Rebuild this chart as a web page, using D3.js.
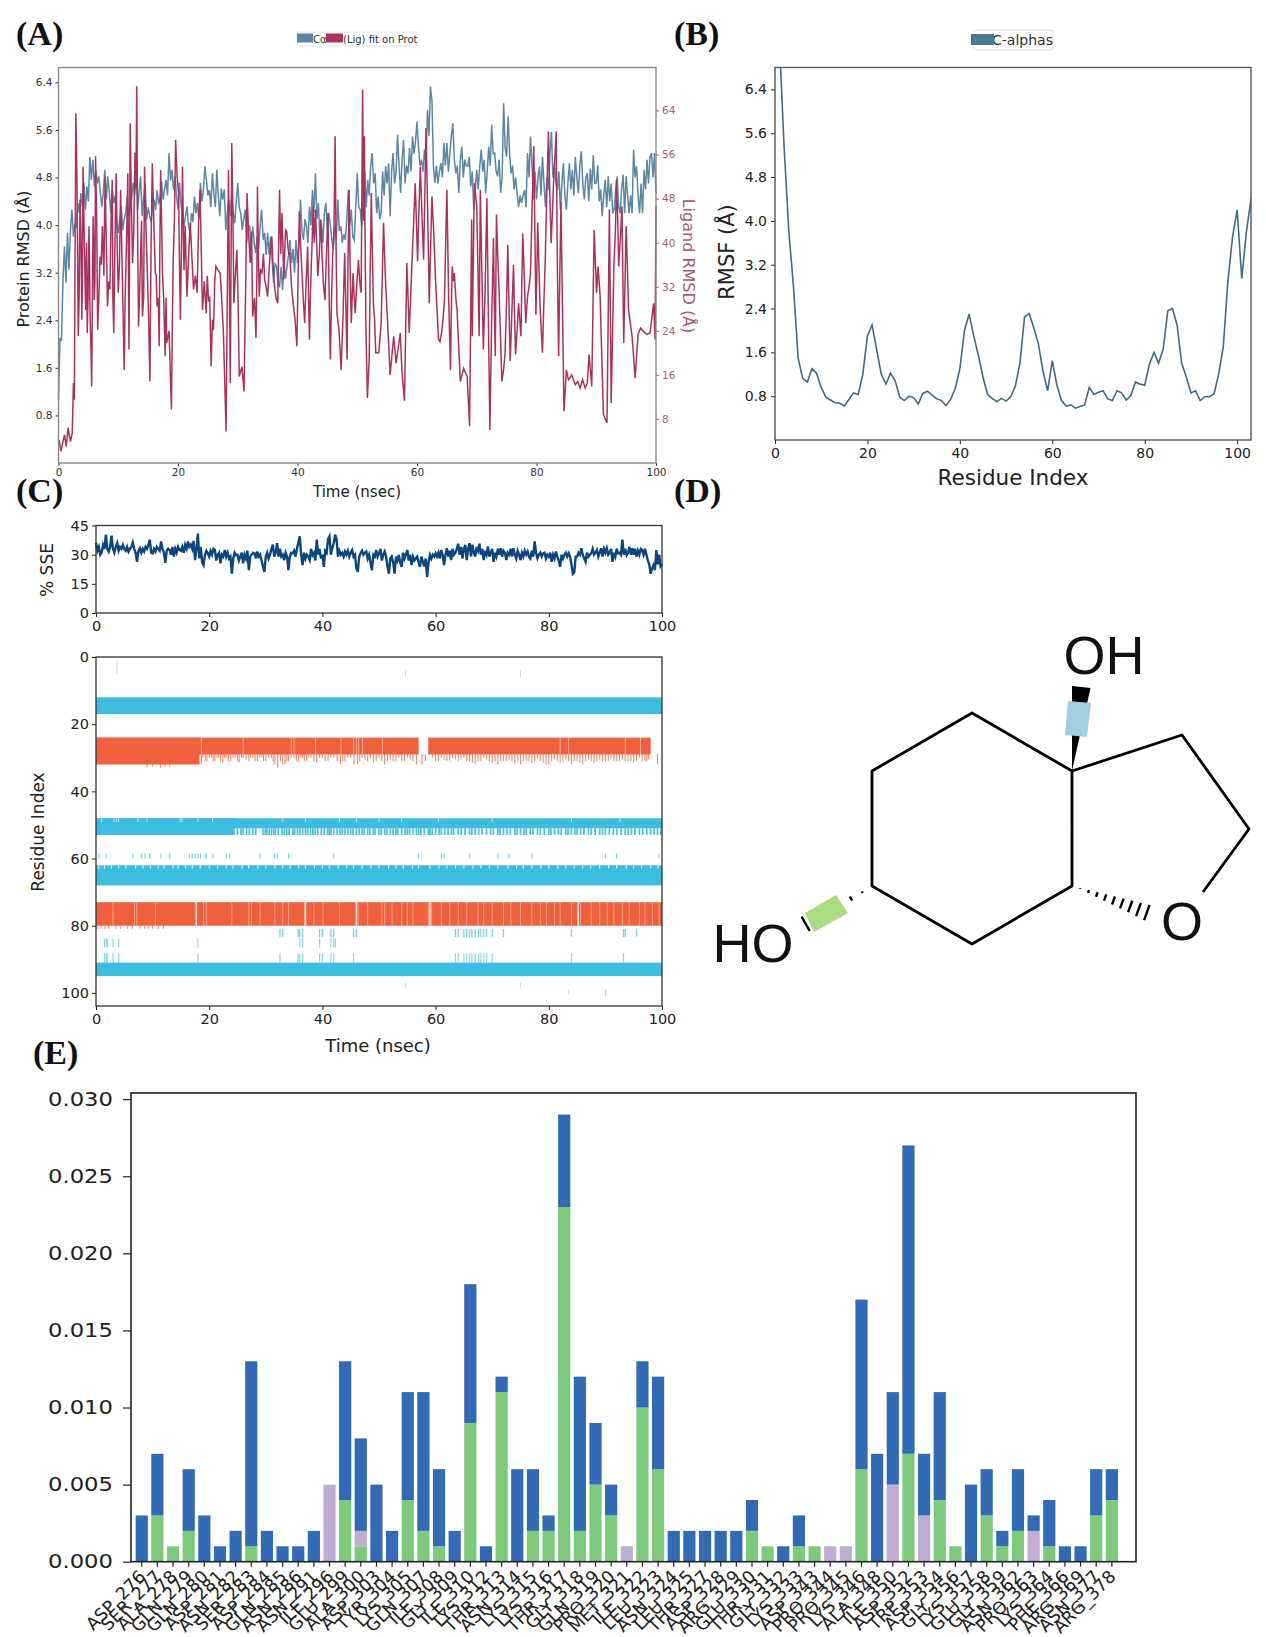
<!DOCTYPE html>
<html>
<head>
<meta charset="utf-8">
<script src="https://cdnjs.cloudflare.com/ajax/libs/d3/7.8.5/d3.min.js"></script>
<style>
  body { margin: 0; background: #fff; }
  text { font-family: "DejaVu Sans", sans-serif; }
  .panel-letter { font-family: "Liberation Serif", serif; font-weight: bold; font-size: 34px; fill: #111; }
  .atom { font-family: "Liberation Sans", sans-serif; font-size: 54px; fill: #111; }
</style>
</head>
<body>
<div id="chart"></div>
<script>
// (A) RMSD. Protein is one value per 0.25 ns
var proteinRmsd = [
1.06,2.1,2.05,3.08,3.64,3.03,3.87,3.25,3.92,4.26,3.81,4.03,3.95,4.37,4.2,4.54,4.31,4.71,4.26,4.65,
4.4,5.15,4.76,5.1,4.65,4.93,4.7,4.82,4.54,4.31,4.55,4.93,4.43,4.82,4.55,4.2,4.59,4.37,4.5,4.05,
3.87,4.1,4.31,3.92,4.1,4.2,4.48,4.15,4.26,4.45,4.71,4.5,4.87,4.26,4.55,4.82,4.15,4.45,4.71,4.09,
4.3,4.15,4.05,4.3,4.43,4.25,4.59,4.35,4.48,4.73,4.43,4.6,4.76,4.5,5.21,4.75,4.93,4.59,4.82,4.5,
4.26,4.71,4.35,4.2,3.98,4.15,4.31,4,3.87,4.2,4.05,4.48,4.2,4.37,4.1,4.71,4.4,4.59,4.99,4.76,
4.5,4.59,4.3,4.87,4.54,4.3,4.93,4.5,4.15,4.62,4.43,4.6,3.92,4.2,4.43,4.15,4.54,4.2,4.03,4.4,
4.71,4.3,4.2,3.92,4.1,4.26,3.7,4,3.98,3.64,3.98,3.7,3.53,3.81,3.6,3.98,4.26,3.75,3.87,3.5,
3.87,3.5,3.81,3.4,3.03,3.35,3.31,3,2.97,3.3,2.91,3.36,3.1,3.31,3.5,3.75,3.36,3.6,3.2,3.75,
3.36,3.7,4.43,3.9,3.75,4.1,3.98,3.7,4.31,4,4.59,4.2,4.87,4.1,4.37,3.8,4.03,3.7,4.2,4.37,
3.9,4.2,4,3.75,3.6,4,3.75,4.43,3.9,3.98,3.7,3.85,3.75,4.1,4.59,4,4.26,3.8,3.75,4.3,
4.87,4.3,4.26,3.98,4.4,4.9,4.3,4.76,4.5,5,5.21,4.7,4.87,4.2,4.48,4.1,4.2,4.9,4.5,4.99,
4.7,5.04,4.15,4.9,5.21,4.7,4.9,5.52,5,4.54,5.1,5.43,4.7,5,4.87,5.3,4.9,5.49,5.2,5.4,
5.74,5.32,5,5.1,4.9,5.27,5,5.94,5.5,6.33,6.1,4.99,4.71,5,4.7,4.9,5.04,4.8,5.38,5,
5.38,4.9,5.2,5.5,5.71,5.1,4.87,5,4.54,5.1,5.32,4.8,5.1,5,4.99,5.15,4.65,4.9,4.26,4.6,
4.93,4.6,5,5.27,4.9,5.1,4.54,4.9,5.32,5,5.69,5.2,5.21,4.9,4.82,5.1,4.54,4.8,6.05,5.3,
5.15,5.83,5.2,4.87,5,4.6,4.8,4.54,4.3,4.5,4.37,4.5,4.59,4.3,5.21,4.8,5.49,5,4.43,4.9,
4.43,4.8,4.99,4.5,5.15,4.7,4.31,4.8,4.59,5.2,5.57,4.8,5.04,4.7,4.59,4.9,4.26,4.7,5.04,4.5,
4.26,4.7,5.04,4.6,4.93,4.5,5.15,4.8,4.54,5,5.24,4.7,4.43,4.8,4.87,4.4,4.95,4.6,5.18,4.7,
4.71,5,4.4,4.6,4.15,4.5,4.76,4.3,4.82,4.4,4.7,4.2,4.26,4.6,4.82,4.3,4.2,4.6,4.85,4.2,
4.82,4.5,4.2,4.5,4.2,5.27,4.8,4.99,4.5,4.2,4.7,4.2,4.93,4.6,5.1,4.7,5.15,5.21,4.8,5.21,
4.54];
var ligandTime = [.1,.4,1,1.3,1.6,2,2.3,2.5,2.65,2.9,3.1,3.3,3.6,3.9,4.1,4.3,4.55,4.8,5.1,5.3,5.55,5.8,6,6.2,6.55,6.95,7.35,7.8,8.2,8.6,9,9.25,9.65,10,10.4,11,11.3,11.6,11.8,12,12.4,12.8,13.1,13.4,13.7,14.05,14.4,14.8,15.3,15.7,16.2,16.5,16.85,17.1,17.4,17.85,18.1,18.9,19.2,19.6,20.1,20.4,20.75,21.2,21.5,22.05,22.6,23.2,23.7,24.1,24.7,25.1,25.55,25.95,26.35,27.05,27.6,28.05,28.45,28.75,29,29.35,29.85,30.25,30.7,31.05,31.55,32.1,32.5,33.05,33.3,33.6,34.05,34.5,35,35.7,36.1,36.7,37,37.4,37.7,38,38.4,38.7,39.3,39.9,40.3,40.7,41.2,41.7,42,42.3,42.6,43,43.4,43.9,44.3,44.6,45.1,45.5,45.9,46.3,46.6,47.3,47.9,48.3,48.65,49,49.3,49.65,50.2,50.65,50.9,51.2,51.45,51.7,52,52.35,52.7,53.1,53.6,54,54.4,54.7,55,55.5,56.1,56.5,57.2,57.5,57.9,58.3,58.7,59.2,59.7,60.1,60.55,61.1,61.5,62.05,62.5,63.1,63.6,64.1,64.6,65,65.6,65.9,66.25,66.7,67.25,67.8,68.4,68.8,69.15,69.25,69.6,70,70.4,70.6,71.1,71.4,71.7,72.2,72.8,73.1,73.3,73.75,74.2,74.75,75.2,75.6,76.15,76.5,77,77.4,77.7,78.2,78.5,79,79.55,79.9,80.2,80.6,81,81.45,82,82.45,82.85,83.3,83.7,84.1,84.6,85,85.35,85.9,86.5,86.9,87.3,87.7,88.15,88.5,88.8,89.25,89.65,90.05,90.3,90.65,91.2,91.8,92.2,92.5,92.95,93.4,93.75,94.3,94.6,95,95.4,96,96.5,97,97.4,97.9,98.5,99,99.6,99.85,100];
var ligandRmsd = [4.2,2.1,5.1,3,6.4,3.9,5.4,14.5,11.5,63.5,50.8,23,47.8,26,53.8,41.7,27.8,23.6,43,26,13.9,44.8,29.6,55.7,24.2,37.5,43,52,28.4,31.5,51.4,23.6,52.6,30.9,49.6,16.9,36.3,52.6,20.6,61.7,36.3,56.3,68.4,24.8,35.7,26.6,53.8,36.9,14.8,54.4,34.5,28.4,21.2,53.2,34.5,19.4,21.8,9.7,36.9,58.7,49,26,53.8,43,30.2,43.6,31.5,30.9,49.6,27.8,27.2,29.6,17.5,24.2,35.7,34.5,23.6,5.7,53.2,14.5,58.1,29,38.7,15.7,17.5,13,49,36.3,26.6,22.7,50.2,30.2,34.5,33.3,30.2,41.1,32.7,29,49.6,45.4,33.3,42.3,39.3,38.1,28.7,21.2,45.7,35.7,25.4,39.3,22.4,35.7,46.6,46,33.9,44.2,33.3,29.6,45.4,18.8,38.1,59.3,27.2,16.9,38.1,18.8,49.6,25.4,34.5,27.2,36.9,30.9,67.8,59.3,24.8,11.8,18.8,49,29,20,20,25.4,43.6,33.9,27.2,16,23,18.1,23.6,16.3,11.3,36.3,23.6,37.5,50.8,36.6,53.8,36.9,60.8,29,48.4,33.3,22.4,23.6,29.6,49.6,16.9,35.7,34.5,27.8,14.8,17.2,15.7,6.7,44.2,23,50.8,46.6,23,49.6,20.6,31.5,48.1,6,40.8,19.4,45.1,30.9,14.8,20,39.6,18.5,36,19.7,29,23,41.7,25.4,30.2,34.5,57.5,26.9,43.6,28.4,20,36.3,60.2,39.9,50.8,60.2,19.4,47.5,9.4,16.9,15.1,16,14.2,14.8,13.6,15.1,13.6,14.5,19.7,13.9,42.3,30.9,35.7,30.2,8.8,7.3,46,10.9,35.7,51.4,35.7,46.6,21.8,43,27.8,23,15.4,23.3,24.5,23.9,23.3,23.6,29,22.4,46.6];
// the busy stretches, read separately, merged in by time when drawing
var ligandBusyTime = [3.2,3.45,3.75,4,4.2,4.45,4.7,4.95,5.2,5.45,5.7,5.9,6.1,6.4,6.75,7.15,7.6,8,8.4,8.8,9.1,9.45,9.85,10.2,10.7,11.15,11.45,11.7,11.9,12.2,12.6,12.95,13.25,13.55,13.9,14.25,14.6,15.05,15.5,15.95,16.35,16.7,16.95,17.25,17.6,18,18.5,19.05,19.4,19.85,20.25,20.6,21,21.35,21.8,22.3,22.9,23.45,23.9,24.4,24.9,25.3,25.75,26.15,26.7,27.3,28.25,28.6,28.9,29.2,29.6,30.05,31.3,31.8,32.3,32.8,33.2,33.45,33.8,34.3,34.75,35.35,35.9,36.4,36.85,37.2,37.55,37.85,38.2,38.55,39,39.6,40.1,40.5,40.95,41.45,41.85,42.15,42.45,42.8,43.2,43.65,44.1,44.45,44.85,45.3,45.7,46.1,46.45,46.95,47.6,48.1,48.45,48.8,49.15,49.5,49.9,50.4,51.05,51.3,52.15,52.5,52.9,59.45,59.9,60.3,60.8,61.3,61.8,62.3,62.8,63.35,63.85,64.35,64.8,65.3,65.75,66.05,66.5,70.2,70.85,71.25,71.55,72,72.5,72.95,73.2,73.5,74,74.5,75,75.4,75.9,76.3,76.75,77.2,77.55,77.95,78.35,78.75,79.25,79.75,80.05,80.4,80.8,81.2,81.7,82.2,82.65,83.05,83.5,83.9,84.35,92.7,93.2,93.6,94,94.45,94.8,95.2];
var ligandBusyRmsd = [38,30,42,33,48,33,40,30,36,20,33,40,33,44,30,36,34,40,33,44,30,40,38,36,33,30,44,36,40,47,42,50,40,30,44,30,44,28,40,44,34,30,38,44,30,30,24,25,44,52,36,40,35,37,38,38,34,44,38,33,34,30,26,33,35,30,30,33,40,44,34,30,30,42,42,30,34,38,35,38,32,37,36,30,40,38,40,38,42,38,32,26,34,40,30,33,30,30,40,40,40,38,38,31,38,30,30,42,40,24,26,28,36,36,30,30,32,33,44,42,33,40,26,44,44,45,46,48,45,40,42,28,22,26,40,30,28,33,30,35,35,26,40,22,26,28,33,38,22,17,30,28,28,28,24,26,33,34,28,32,46,40,34,36,24,28,48,50,45,55,35,34,28,22,42,44,40,34,32,36];
var proteinTicks = [0.8,1.6,2.4,3.2,4.0,4.8,5.6,6.4];
var ligandTicks = [8,16,24,32,40,48,56,64];
var timeTicks = [0,20,40,60,80,100];

// (B) RMSF per residue index 0..103
var rmsf = [9,7.2,5.3,3.8,2.8,1.5,1.12,1.06,1.3,1.22,.96,.78,.73,.68,.67,.62,.74,.86,.83,1.2,1.9,2.1,1.65,1.2,1.02,1.22,1.08,.78,.72,.8,.77,.66,.85,.89,.82,.75,.72,.63,.74,.94,1.3,2,2.3,1.9,1.55,1.15,.83,.76,.7,.76,.71,.79,.98,1.4,2.25,2.31,2.05,1.75,1.25,.9,1.45,1,.72,.62,.64,.58,.61,.64,.96,.83,.87,.9,.75,.72,.9,.86,.73,.81,1.06,1.02,1,1.38,1.6,1.4,1.66,2.36,2.4,2.1,1.4,1.15,.86,.9,.72,.79,.79,.84,1.2,1.7,2.9,3.7,4.2,2.95,3.8,4.4];
var residueTicks = [0,20,40,60,80,100];

// (C) secondary structure, % SSE one value per 0.25 ns
var ssePercent = [
36,32,34,30,31,35,33,40.3,33,31.6,34,39.8,33,31,34,36,32,34,33,35,
33,32,34,31.6,33,34,36.3,33,31,26.3,32,33.3,31,33,31.6,34,33,35,37.7,31,
30.7,33,31.6,34,33,32,36.8,33,31,25.8,32,33,32.4,30,34,29,33,31,34,32.4,
32,34,31,35,33,36.8,34,35.1,33,37,27.2,33,40.8,28.1,34,26,24.6,30,32,30.7,
29,32,30,33,32.4,27,29.8,31,25.5,30,29,32.4,29,31,28,29,20.2,28,31,29.8,
30,27,29,31,25.5,30,28,32,22,29,30,31,30.7,28,31.6,29,30,27,24,21.1,
29,31,28,30,33,35.1,29,31,35.9,29,33,29,30,27.2,31,29,22,29,31,30.7,
32,29,33,36.3,39.4,30,24.6,31,28,30,29,27.2,33,29.8,31,27,37.7,30,33,28,
30,23.7,32,31,38,39.4,30,33.3,36,40.3,38,29,32,30,31,29,31.6,30,32,29,
31,32.4,29,30,23,21.1,29,30.7,32,30,31,31.6,28,30,26,22,30,29,32.4,29,
30.7,33,27,30,31.6,29,24,20.2,28,29,26,20.2,29,27,29.8,26,23.7,31,28,30,
32.4,27,30,24.6,29,27,28,29,26,23.7,29,26.3,24,28,18.5,26,29.8,28,30,29,
30.7,29,31,28,32.4,30,24.6,30,33.3,29,32,27.2,33,30,31,33,35.6,30,34,28,
33,35,27.2,33,36,29,35.1,31,29,34,32,35.6,30,33,27.2,32,30,34.2,29,31,
33,26.3,31,29,33,30,33.3,29,32,31,27.2,31,30,33,29,33.3,30,28,32,30,
27.2,31,29,32,30,31.6,29,28,32,29,36.8,31,28.1,30,31,29,30.7,31,28,30,
29,31,26.3,30,28,31.6,29,27,23.7,30,28,29.8,31,29,30.7,29,25,20.2,21,29,
29,31,30,33.3,30,28,26.3,31,29,30,30.7,33,30,31,32.4,29,31,33.3,29,33,
31,33.3,30,31,33,26.3,31,29,33,30.7,31,30,37.7,30,33,29.8,31,34,30,33.3,
30,33,29,32,30,33,32.4,30,33,30,27,25,20.2,23,24.6,22,32.4,25,30,24,
25];
var sseTicks = [0,15,30,45];
var heatTicks = [0,20,40,60,80,100];

// solid blocks: [residue from, residue to, time from, time to]
var helixBlocks = [[12,17,0,100],[48,51,0,100],[48,53,0,24.5],[62,68,0,100],[91,95,0,100]];
var strandBlocks = [[24,29,0,57],[24,29,58.7,98],[24,32,0,18.3],[73,80,0,100]];
// thin marks hanging under the first strand: [time, lowest residue]
var strandFringe = [[9,33],[10,32.6],[11.4,33],[12.2,32.6],[13,32.6],[18.6,32],[18.9,30],[19.3,31],[19.6,31],[20,30],[20.4,30],[20.7,31],[21,31],[21.4,30],[21.7,30],[22,31],[22.4,31.5],[22.7,30],[23,30],[23.4,31],[23.8,31],[24.2,30],[24.6,30],[25,31],[25.3,31.5],[25.7,30],[26,30],[26.5,30.5],[27,31],[27.3,30],[27.7,30],[28.1,31],[28.5,31],[28.9,30],[29.3,30],[29.6,31],[30,31],[30.5,30],[31,30],[31.3,31],[31.6,32],[32.1,33],[32.6,31],[33,32],[33.4,32],[33.7,31],[34,31],[34.5,30],[35,30],[35.4,31],[35.8,31],[36.2,30],[36.5,30],[36.8,31],[37.2,31],[37.6,30],[38,30],[38.5,31],[39,31.5],[39.5,30],[40,30],[40.5,31],[41,31],[41.5,30],[42,30],[42.6,31],[43.2,32],[43.6,31],[44,31],[44.5,30],[45,30],[45.6,32],[46.2,32],[46.6,31],[47,30],[47.5,30.5],[48,31],[48.5,30],[49,31.5],[49.5,31],[50,30],[50.5,31],[51,32],[51.5,31],[52,30.5],[52.5,31],[53,31],[53.5,30],[54,31],[54.5,31],[55,30],[55.5,30.5],[56,31],[56.6,32],[57.6,32],[58.2,31],[59.5,30],[60,31],[60.5,31],[61,30],[61.5,30.5],[62,31],[62.5,31],[63,30],[63.5,30.5],[64,31],[64.5,30.5],[65,30],[65.5,31],[66,31],[66.5,31.5],[67,32],[67.5,31],[68,31],[68.5,30],[69,30.5],[69.5,31],[70,31.5],[70.5,31],[71,32],[71.5,31],[72,31],[72.5,31],[73,30.5],[73.5,31],[74,31.5],[74.5,31],[75,32],[75.5,31],[76,31],[76.5,31],[77,31.5],[77.5,31],[78,30.5],[78.5,31],[79,31.5],[79.5,32],[80,32],[80.5,31],[81,30.5],[81.5,31],[82,31.5],[82.5,31],[83,30.5],[83.5,31],[84,32],[84.5,31],[85,31],[85.5,31.5],[86,32],[86.5,31],[87,30.5],[87.5,31],[88,31.5],[88.5,31],[89,30.5],[89.5,31],[90,31],[90.5,31],[91,30.5],[91.5,31],[92,31],[92.5,31],[93,30.5],[93.5,31],[94,31],[94.5,31],[95,31.5],[95.5,31],[96,30],[96.5,31],[97,31],[97.3,31],[97.6,30.5],[99.2,32]];
var strandOneGaps = [18.6,26,34.5,35,38.8,43.3,45.5,46,46.4,47.1,50.6,82,83.5,93.5,96.2];
var strandTwoGaps = [3,6.8,7.2,10.5,19,19.5,24,27,27.5,29,31.6,33,34,36.9,38.5,40.1,43,46.3,48,50.5,51,52.3,54,55,56,58.7,59.3,61,62.5,64,65.5,67.5,68.5,70,72,73.3,75,77,78.5,79.6,81,82,84,85.6,87.5,89,90.3,91.5,93,94.2,96,97,98.3,99.5];
var strandTwoWide = [17.7,37,46,59,85.2];
var sheetFringeTimes = [25,25.6,26,26.6,27.1,27.7,28.2,29.5,29.9,30.2,30.6,31,31.4,31.7,32.2,32.9,33.3,33.7,34.1,34.8,35.1,35.6,36,36.5,37,37.4,37.9,38.3,38.7,39.2,39.8,40.3,40.9,41.2,41.5,42,42.6,43.1,43.5,44,44.5,45,45.4,46,46.5,47,47.4,48,48.4,49,49.3,50,50.4,51,51.4,52,52.5,53,53.3,54,54.6,55,55.4,56,56.6,57,57.4,58,58.7,59,59.4,60,60.6,61,61.6,62.2,62.8,63.2,64,64.5,65.2,66,66.4,67,67.6,68.2,69,69.7,70.2,71,71.4,72,72.6,73.2,74,74.4,75,75.6,76,76.7,77.2,78,78.5,79.2,80,80.4,81,81.7,82.2,83,83.4,84,84.6,85,85.6,86.2,87,87.5,88.2,89,89.5,90,90.7,91.4,92,92.8,93.5,94,94.6,95.2,96,96.6,97.3,98,98.6,99.2,99.8];
var helixTopGaps = [1,3.2,3.6,4,7.4,9,14.9,15.2,18,20.6,33,37,43,46,50,54,60.5,70,84,92.6];
var helixThreeGaps = [.5,1.5,2.7,4,5.3,7,8.3,9.6,11,12,13.6,14.5,15.8,17,18.4,20,21.5,23,24.2,25.8,27,28.6,30,31.6,33,34.3,35.8,37,38.6,40,41.2,42.8,44.3,45.5,47,48.6,50,51.7,53,54.3,55.9,57,59,60.6,62,63.5,65,66.6,68,69.5,71,72.8,74.3,75.5,77,78.6,80,81.6,83,84.5,86,87.4,89,90.6,92,93.7,95,96.4,98,99.3];
var strandTwoSkirt = [.3,.9,1.6,2.2,3.5,4.4,5.6,6.4,7.8,8.6,9.2,10,11,11.9];
var rowSixty = [.5,1.8,6.5,8,8.7,9.5,11.5,13,16.5,17,17.5,18,18.5,19.5,20.7,23,23.6,29,31.5,32,34,42,57,61,61.5,66,71,73,77,90,92,99.5];
var rowEightyTwo = [32.5,33,35.7,36,36.5,39.5,40,41.5,42,45.5,46,63.5,64,65,65.5,66,66.4,67,67.6,68,68.5,69,70,72,84,93.2,93.5,95.5];
var rowEightyFive = [1.5,1.8,2,3,4,18,36,36.5,39.5,41.5,42,42.3];
var rowNinety = [1.5,1.8,2,3,4,18,32.5,35.7,36,36.5,39.5,40,41.5,42,45.5,63.5,64,65,65.5,66,66.4,67,67.6,68,68.5,69,70,93.2,84];
var paleMarks = [[3.7,1,5],[54.7,4,6],[75,4,6],[54.7,97,98.5],[75,97,98.5],[83.5,99,100.5]];

// (E) protein-ligand contacts
var residues = ["ASP_276","SER_277","ALA_278","GLN_279","GLN_280","ASP_281","ASN_282","SER_283","ASP_284","GLN_285","ASN_286","ASN_291","ILE_296","GLU_299","ALA_300","ASP_303","TYR_304","LYS_305","GLN_307","ILE_308","GLY_309","ILE_310","LYS_312","THR_313","ASN_314","LYS_315","LYS_316","THR_317","GLY_318","GLN_319","PRO_320","MET_321","ILE_322","LEU_323","ASN_324","LEU_325","THR_327","ASP_328","ARG_329","GLU_330","THR_331","GLY_332","LYS_333","ASP_343","PRO_344","PRO_345","LYS_346","ALA_348","ILE_350","ASP_352","TRP_353","ASP_354","GLY_356","LYS_357","GLU_358","GLY_359","ASN_362","PRO_363","LYS_364","PHE_366","ARG_369","ASN_377","ARG_378"];
var hbonds = [0,.003,.001,.002,0,0,0,.001,0,0,0,0,0,.004,.001,0,0,.004,.002,.001,0,.009,0,.011,0,.002,.002,.023,.002,.005,.003,0,.01,.006,0,0,0,0,0,.002,.001,0,.001,.001,0,0,.006,0,0,.007,0,.004,.001,0,.003,.001,.002,0,.001,0,0,.003,.004];
var hydrophobic = [0,0,0,0,0,0,0,0,0,0,0,0,.005,0,.001,0,0,0,0,0,0,0,0,0,0,0,0,0,0,0,0,.001,0,0,0,0,0,0,0,0,0,0,0,0,.001,.001,0,0,.005,0,.003,0,0,0,0,0,0,.002,0,0,0,0,0];
var waterBridges = [.003,.004,0,.004,.003,.001,.002,.012,.002,.001,.001,.002,0,.009,.006,.005,.002,.007,.009,.005,.002,.009,.001,.001,.006,.004,.001,.006,.01,.004,.002,0,.003,.006,.002,.002,.002,.002,.002,.002,0,.001,.002,0,0,0,.011,.007,.006,.02,.004,.007,0,.005,.003,.001,.004,.001,.003,.001,.001,.003,.002];
var contactTicks = [0,.005,.01,.015,.02,.025,.03];

var svg = d3.select("#chart").append("svg").attr("width", 1266).attr("height", 1637);

function panelLabel(txt, x, y) {
    svg.append("text").attr("class", "panel-letter").attr("x", x).attr("y", y).text(txt);
}
panelLabel("(A)", 16, 45);
panelLabel("(B)", 674, 45);
panelLabel("(C)", 16, 502);
panelLabel("(D)", 674, 502);
panelLabel("(E)", 33, 1064);

// spines + tick text in one go
function styleAxis(g, color, fontSize) {
    g.select(".domain").remove();
    g.selectAll(".tick line").attr("stroke", color).attr("stroke-width", 1);
    g.selectAll(".tick text").attr("fill", color).attr("font-size", fontSize);
}
function frame(g, w, h, color, width) {
    g.append("rect").attr("width", w).attr("height", h)
        .attr("fill", "none").attr("stroke", color).attr("stroke-width", width);
}
function rotatedLabel(x, y, angle, txt, size, color) {
    svg.append("text").attr("transform", "translate(" + x + "," + y + ") rotate(" + angle + ")")
        .attr("text-anchor", "middle").attr("font-size", size).attr("fill", color).text(txt);
}

drawRmsd();
drawRmsf();
drawSse();
drawHeat();
drawMolecule();
drawContacts();

function drawRmsd() {
    var left = 58.5, top = 67.5, w = 597.5, h = 395.5;
    var g = svg.append("g").attr("transform", "translate(" + left + "," + top + ")");
    var x = d3.scaleLinear().domain([0, 100]).range([0, w]);
    var yP = d3.scaleLinear().domain([0, 6.65]).range([h, 0]);
    var yL = d3.scaleLinear().domain([0, 71.8]).range([h, 0]);
    var proteinStep = 100 / (proteinRmsd.length - 1);

    var ligandPoints = d3.zip(ligandTime.concat(ligandBusyTime), ligandRmsd.concat(ligandBusyRmsd))
        .sort(function (a, b) { return a[0] - b[0]; });

    var lineP = d3.line().x(function (d, i) { return x(i * proteinStep); }).y(function (d) { return yP(d); });
    var lineL = d3.line().x(function (d) { return x(d[0]); }).y(function (d) { return yL(d[1]); });
    g.append("path").attr("d", lineP(proteinRmsd)).attr("fill", "none").attr("stroke", "#5c88a4").attr("stroke-width", 1.5);
    g.append("path").attr("d", lineL(ligandPoints)).attr("fill", "none").attr("stroke", "#a9335f").attr("stroke-width", 1.5);

    var ax = g.append("g").attr("transform", "translate(0," + h + ")").call(d3.axisBottom(x).tickValues(timeTicks).tickSize(3).tickPadding(3));
    styleAxis(ax, "#333", 10.5);
    var ay = g.append("g").call(d3.axisLeft(yP).tickValues(proteinTicks).tickFormat(d3.format(".1f")).tickSize(3).tickPadding(3));
    styleAxis(ay, "#333", 10.5);
    var ar = g.append("g").attr("transform", "translate(" + w + ",0)").call(d3.axisRight(yL).tickValues(ligandTicks).tickSize(3).tickPadding(3));
    styleAxis(ar, "#a85c7c", 10.5);
    frame(g, w, h, "#8a8a8a", 1.4);

    rotatedLabel(29, 259, -90, "Protein RMSD (Å)", 16, "#222");
    rotatedLabel(683, 266, 90, "Ligand RMSD (Å)", 16, "#a85c7c");
    svg.append("text").attr("x", 357).attr("y", 497).attr("text-anchor", "middle").attr("font-size", 15).attr("fill", "#222").text("Time (nsec)");

    // legend, the swatches sit over the text like in the picture
    var lg = svg.append("g");
    lg.append("rect").attr("x", 297).attr("y", 32).attr("width", 120).attr("height", 14).attr("rx", 2).attr("fill", "#fff").attr("stroke", "#e4e4e4");
    lg.append("text").attr("x", 313).attr("y", 42.5).attr("font-size", 10).attr("fill", "#333").text("Cα");
    lg.append("text").attr("x", 343).attr("y", 42.5).attr("font-size", 10).attr("fill", "#333").text("(Lig) fit on Prot");
    lg.append("rect").attr("x", 297).attr("y", 33.5).attr("width", 16).attr("height", 9).attr("fill", "#5c88a4");
    lg.append("rect").attr("x", 326).attr("y", 33.5).attr("width", 17).attr("height", 9).attr("fill", "#a9335f");
}

function drawRmsf() {
    var left = 775, top = 67.5, w = 476, h = 372.5;
    var g = svg.append("g").attr("transform", "translate(" + left + "," + top + ")");
    var x = d3.scaleLinear().domain([0, 103]).range([0, w]);
    var y = d3.scaleLinear().domain([0, 6.8]).range([h, 0]);

    g.append("clipPath").attr("id", "rmsf-clip").append("rect").attr("width", w).attr("height", h);
    var line = d3.line().x(function (d, i) { return x(i); }).y(function (d) { return y(d); });
    g.append("path").attr("d", line(rmsf)).attr("clip-path", "url(#rmsf-clip)")
        .attr("fill", "none").attr("stroke", "#3f6b85").attr("stroke-width", 1.6);

    var ax = g.append("g").attr("transform", "translate(0," + h + ")").call(d3.axisBottom(x).tickValues(residueTicks).tickSize(4).tickPadding(4));
    styleAxis(ax, "#222", 14);
    var ay = g.append("g").call(d3.axisLeft(y).tickValues(proteinTicks).tickFormat(d3.format(".1f")).tickSize(4).tickPadding(4));
    styleAxis(ay, "#222", 14);
    frame(g, w, h, "#555", 1.4);

    rotatedLabel(734, 252, -90, "RMSF (Å)", 21, "#222");
    svg.append("text").attr("x", 1013).attr("y", 485).attr("text-anchor", "middle").attr("font-size", 21.5).attr("fill", "#222").text("Residue Index");

    svg.append("rect").attr("x", 973).attr("y", 30).attr("width", 80).attr("height", 20).attr("rx", 3).attr("fill", "#fff").attr("stroke", "#e0e0e0");
    svg.append("text").attr("x", 992).attr("y", 45).attr("font-size", 14).attr("fill", "#333").text("C-alphas");
    svg.append("rect").attr("x", 971).attr("y", 34).attr("width", 23).attr("height", 11).attr("fill", "#4a7793");
}

function drawSse() {
    var left = 96, top = 525.5, w = 566, h = 87.5;
    var g = svg.append("g").attr("transform", "translate(" + left + "," + top + ")");
    var x = d3.scaleLinear().domain([0, 100]).range([0, w]);
    var y = d3.scaleLinear().domain([0, 45]).range([h, 0]);
    var step = 100 / (ssePercent.length - 1);
    var line = d3.line().x(function (d, i) { return x(i * step); }).y(function (d) { return y(d); });
    g.append("path").attr("d", line(ssePercent)).attr("fill", "none").attr("stroke", "#0b4680").attr("stroke-width", 2.4);

    var ax = g.append("g").attr("transform", "translate(0," + h + ")").call(d3.axisBottom(x).tickValues(timeTicks).tickSize(4).tickPadding(4));
    styleAxis(ax, "#222", 14.5);
    var ay = g.append("g").call(d3.axisLeft(y).tickValues(sseTicks).tickSize(4).tickPadding(3));
    styleAxis(ay, "#222", 14.5);
    frame(g, w, h, "#333", 1.3);
    rotatedLabel(53, 570, -90, "% SSE", 17, "#222");
}

function drawHeat() {
    var left = 96, top = 657, w = 566, h = 349;
    var g = svg.append("g").attr("transform", "translate(" + left + "," + top + ")");
    var x = d3.scaleLinear().domain([0, 100]).range([0, w]);
    var y = d3.scaleLinear().domain([0, 103.9]).range([0, h]);
    var helix = "#3dbde0", strand = "#f0603c";

    function blocks(rows, color) {
        g.append("g").selectAll("rect").data(rows).enter().append("rect")
            .attr("x", function (d) { return x(d[2]); })
            .attr("width", function (d) { return x(d[3]) - x(d[2]); })
            .attr("y", function (d) { return y(d[0]); })
            .attr("height", function (d) { return y(d[1]) - y(d[0]); })
            .attr("fill", color);
    }
    function marks(times, r0, r1, color, opacity, width) {
        g.append("g").selectAll("line").data(times).enter().append("line")
            .attr("x1", function (d) { return x(d); }).attr("x2", function (d) { return x(d); })
            .attr("y1", y(r0)).attr("y2", y(r1))
            .attr("stroke", color).attr("stroke-opacity", opacity).attr("stroke-width", width);
    }
    blocks(helixBlocks, helix);
    blocks(strandBlocks, strand);

    g.append("g").selectAll("line").data(strandFringe).enter().append("line")
        .attr("x1", function (d) { return x(d[0]); }).attr("x2", function (d) { return x(d[0]); })
        .attr("y1", y(28.9)).attr("y2", function (d) { return y(d[1]); })
        .attr("stroke", strand).attr("stroke-opacity", .75).attr("stroke-width", 1.1);

    marks(sheetFringeTimes, 51, 53, helix, .95, 1.7);
    marks(strandOneGaps, 24, 29, "#fff", .6, .8);
    marks(strandTwoGaps, 73, 80, "#fff", .5, .8);
    marks(strandTwoWide, 73, 80, "#fff", .8, 1.6);
    marks(strandTwoSkirt, 80, 81, strand, .7, 1);
    marks(helixTopGaps, 48, 49.2, "#fff", .7, .9);
    marks(helixThreeGaps, 62, 63, "#fff", .85, 1);
    marks(rowSixty, 58.5, 60, helix, .7, 1.2);
    marks(rowEightyTwo, 81, 83.4, helix, .7, 1.3);
    marks(rowEightyFive, 83.8, 86.5, helix, .6, 1.2);
    marks(rowNinety, 88.2, 91, helix, .6, 1.2);

    g.append("g").selectAll("line").data(paleMarks).enter().append("line")
        .attr("x1", function (d) { return x(d[0]); }).attr("x2", function (d) { return x(d[0]); })
        .attr("y1", function (d) { return y(d[1]); }).attr("y2", function (d) { return y(d[2]); })
        .attr("stroke", "#c9dbe0").attr("stroke-width", 1);
    marks([90], 99, 101, helix, .6, 1);

    var ax = g.append("g").attr("transform", "translate(0," + h + ")").call(d3.axisBottom(x).tickValues(heatTicks).tickSize(4).tickPadding(4));
    styleAxis(ax, "#222", 14.5);
    var ay = g.append("g").call(d3.axisLeft(y).tickValues(heatTicks).tickSize(4).tickPadding(3));
    styleAxis(ay, "#222", 14.5);
    frame(g, w, h, "#333", 1.3);

    rotatedLabel(44, 832, -90, "Residue Index", 17, "#222");
    svg.append("text").attr("x", 378).attr("y", 1052).attr("text-anchor", "middle").attr("font-size", 18).attr("fill", "#222").text("Time (nsec)");
}

function drawMolecule() {
    // sketch units, mapped to the panel through scales
    var mx = d3.scaleLinear().domain([0, 377]).range([872, 1249]);
    var my = d3.scaleLinear().domain([0, 231]).range([713, 944]);
    var g = svg.append("g");
    var bond = d3.line().x(function (d) { return mx(d[0]); }).y(function (d) { return my(d[1]); });
    var ring = [[200, 58], [100, 0], [0, 58], [0, 173], [100, 231], [200, 173], [200, 58], [310, 22], [377, 116], [331, 179]];
    g.append("path").attr("d", bond(ring)).attr("fill", "none").attr("stroke", "#000").attr("stroke-width", 2.8).attr("stroke-linejoin", "round");
    g.append("path").attr("d", bond([[200, 58], [200, -27], [218.5, -25]]) + "Z").attr("fill", "#000");
    g.append("path").attr("d", bond([[196, -12], [219, -10], [215, 24], [193, 22]]) + "Z").attr("fill", "#a3cde3");

    // hashed bonds get wider along their length
    function hash(from, to, n, maxLen) {
        var dx = to[0] - from[0], dy = to[1] - from[1], len = Math.sqrt(dx * dx + dy * dy);
        d3.range(n).forEach(function (i) {
            var f = (i + 0.5) / n, half = maxLen * f / 2;
            var cx = from[0] + dx * f, cy = from[1] + dy * f;
            g.append("line")
                .attr("x1", mx(cx - dy / len * half)).attr("y1", my(cy + dx / len * half))
                .attr("x2", mx(cx + dy / len * half)).attr("y2", my(cy - dx / len * half))
                .attr("stroke", "#000").attr("stroke-width", 2.4);
        });
    }
    hash([204, 174], [279, 201], 9, 17);
    hash([-4, 176], [-72, 214], 6, 18);
    g.append("path").attr("d", bond([[-67, 200], [-36, 182], [-24, 200], [-58, 219]]) + "Z").attr("fill", "#aadc85");

    g.append("text").attr("class", "atom").attr("x", mx(232)).attr("y", my(-39)).attr("text-anchor", "middle").text("OH");
    g.append("text").attr("class", "atom").attr("x", mx(-119)).attr("y", my(249)).attr("text-anchor", "middle").text("HO");
    g.append("text").attr("class", "atom").attr("x", mx(310)).attr("y", my(227)).attr("text-anchor", "middle").text("O");
}

function drawContacts() {
    var left = 131, top = 1093, w = 1005, h = 468.7;
    var g = svg.append("g").attr("transform", "translate(" + left + "," + top + ")");
    var x = d3.scaleBand().domain(residues).range([1.2, 990.4]).padding(0.22);
    var y = d3.scaleLinear().domain([0, 0.0304]).range([h, 0]);

    var rows = residues.map(function (r, i) {
        return { residue: r, hb: hbonds[i], hp: hydrophobic[i], wb: waterBridges[i] };
    });
    var keys = ["hb", "hp", "wb"];
    var colors = { hb: "#7fc97f", hp: "#beaed4", wb: "#326ab3" };
    var stack = d3.stack().keys(keys)(rows);
    g.selectAll("g.layer").data(stack).enter().append("g").attr("class", "layer")
        .attr("fill", function (d) { return colors[d.key]; })
        .selectAll("rect").data(function (d) { return d; }).enter().append("rect")
        .attr("x", function (d) { return x(d.data.residue); })
        .attr("width", x.bandwidth())
        .attr("y", function (d) { return y(d[1]); })
        .attr("height", function (d) { return y(d[0]) - y(d[1]); });

    var ax = g.append("g").attr("transform", "translate(0," + h + ")").call(d3.axisBottom(x).tickSize(5));
    ax.select(".domain").remove();
    ax.selectAll(".tick line").attr("stroke", "#222").attr("stroke-width", 1.2);
    ax.selectAll(".tick text")
        .attr("text-anchor", "end").attr("font-size", 17.5).attr("fill", "#222")
        .attr("dy", 0).attr("y", 0)
        .attr("transform", "translate(5,16) rotate(-45)");

    var ay = g.append("g").call(d3.axisLeft(y).tickValues(contactTicks).tickFormat(d3.format(".3f")).tickSize(8).tickPadding(10));
    ay.select(".domain").remove();
    ay.selectAll(".tick line").attr("stroke", "#222").attr("stroke-width", 1.2);
    ay.selectAll(".tick text").attr("fill", "#222").attr("font-size", 19)
        .attr("textLength", 65).attr("lengthAdjust", "spacingAndGlyphs");
    frame(g, w, h, "#222", 1.6);
}
</script>
</body>
</html>
